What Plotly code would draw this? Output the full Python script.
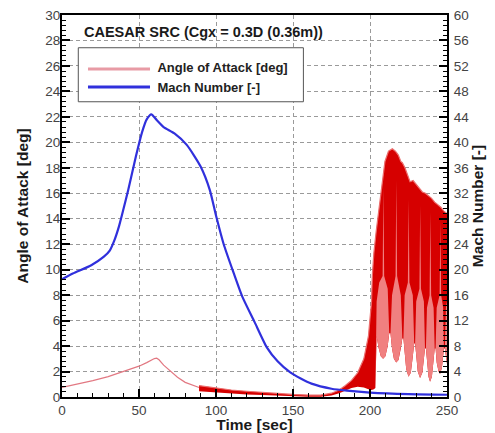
import plotly.graph_objects as go

# ---------------- data ----------------
# Angle of attack, smooth early part [deg]
aoa_t = [0, 10, 20, 30, 40, 50, 55, 58, 60, 61.5, 63, 66, 70, 75, 80, 85, 89]
aoa_v = [0.75, 1.0, 1.28, 1.6, 1.98, 2.42, 2.7, 2.9, 3.02, 3.05, 2.92, 2.5, 2.05, 1.55, 1.15, 0.9, 0.75]

# Angle of attack, oscillating part: upper envelope [deg]
osc_hi_t = [89, 95, 100, 110, 120, 130, 140, 150, 160, 168, 175, 180, 184, 188, 192, 196,
            199, 201, 201.5, 202.5, 204, 205.5, 207.5, 209.7, 212, 214.5, 216.5, 218.4, 220,
            221, 222.7, 224, 226, 228, 230, 232, 234, 236, 238, 240, 242, 244, 246, 248, 250]
osc_hi = [0.9, 0.8, 0.7, 0.55, 0.45, 0.35, 0.28, 0.2, 0.15, 0.15, 0.3, 0.55, 0.9, 1.3, 1.9, 3.0,
          4.8, 7.5, 9.5, 11.3, 13.0, 14.5, 16.4, 18.5, 19.3, 19.5, 19.3, 19.0, 18.5,
          18.4, 18.0, 17.5, 16.9, 17.0, 16.7, 16.4, 16.1, 16.0, 15.8, 15.6, 15.3, 15.1, 14.9, 14.6, 14.4]

# Angle of attack, oscillating part: lower envelope up to the beat region [deg]
osc_lo_t = [89, 95, 100, 110, 120, 130, 140, 150, 160, 168, 175, 180, 184, 188, 192, 196,
            199, 201, 202.5]
osc_lo = [0.45, 0.4, 0.35, 0.25, 0.2, 0.15, 0.1, 0.05, 0.02, 0.02, 0.12, 0.3, 0.5, 0.7, 0.8, 0.75,
          0.6, 0.55, 0.6]

# Beat region: lower envelope (minimum of oscillation) [deg]
lobe_t = [203.5, 204.3, 205.5, 207, 208.5, 210, 211.5, 212.5,
          213.3, 214.3, 215.5, 217, 218.5, 220, 221,
          221.7, 222.5, 223.5, 225, 226.5, 227.8, 228.7,
          229.3, 230, 231, 232.5, 234, 235, 235.7,
          236.3, 237, 238, 239, 240.2, 241.3, 242,
          242.6, 243.3, 244.5, 245.5, 246.7, 247.5, 248,
          248.6, 249.3, 250]
lobe_lo = [0.7, 4.8, 3.9, 3.2, 3.0, 3.2, 4.0, 5.0,
           5.0, 3.8, 3.0, 2.7, 2.9, 3.8, 4.6,
           4.6, 3.2, 2.2, 1.6, 1.9, 3.2, 4.2,
           4.2, 3.0, 2.0, 1.5, 1.9, 3.0, 3.8,
           3.8, 2.6, 1.6, 1.2, 1.6, 2.9, 3.8,
           3.8, 2.7, 2.0, 1.8, 2.3, 3.2, 3.8,
           3.8, 3.0, 2.6]
# Beat region: top of the sparse (light) parts, including light streaks [deg]
lobe_top_t = [203.5, 204.3, 206, 208.2, 208.7, 209.2, 211.5, 212.5,
              213.3, 214.3, 216.6, 217.1, 217.6, 220, 221,
              221.7, 222.5, 224.6, 225.1, 225.6, 227.8, 228.7,
              229.3, 230, 232.1, 232.6, 233.1, 235, 235.7,
              236.3, 237, 238.7, 239.2, 239.7, 241.3, 242,
              242.6, 243.3, 245.2, 245.7, 246.2, 247.5, 248,
              248.6, 249.3, 250]
lobe_top = [0.7, 7.5, 9.0, 9.5, 16.5, 9.5, 8.5, 5.0,
            5.0, 8.0, 9.5, 17.0, 9.5, 8.0, 4.6,
            4.6, 8.0, 9.0, 15.5, 9.0, 8.0, 4.2,
            4.2, 7.5, 8.5, 15.0, 8.5, 7.5, 3.8,
            3.8, 7.0, 8.0, 14.5, 8.0, 7.0, 3.8,
            3.8, 7.0, 8.0, 13.8, 8.0, 7.0, 3.8,
            3.8, 7.0, 7.5]

# Mach number [-]
mach_t = [0, 7, 19, 27, 31, 34, 37, 40, 43, 48, 52, 55, 58, 61.5, 66, 73, 81, 90, 96, 100,
          105, 110.7, 117, 125, 133, 140, 148, 155, 162, 175, 185, 200, 225, 250]
mach_v = [18.5, 19.4, 20.7, 22.0, 23.0, 24.6, 26.8, 29.6, 32.5, 37.8, 41.6, 43.6, 44.4, 43.5,
          42.4, 41.4, 39.6, 36.2, 32.5, 28.5, 24.0, 20.0, 15.8, 11.8, 7.8, 5.6, 3.9, 2.9,
          2.1, 1.3, 1.0, 0.7, 0.45, 0.35]

title_text = "CAESAR SRC (Cgx = 0.3D (0.36m))"
legend_names = ["Angle of Attack [deg]", "Mach Number [-]"]
x_ticks = [0, 50, 100, 150, 200, 250]
aoa_ticks = list(range(0, 31, 2))
mach_ticks = list(range(0, 61, 4))

# ---------------- figure ----------------
FONT = "Liberation Sans, Arial, Helvetica, sans-serif"
DARK_RED = "rgb(214,0,0)"
LIGHT_RED = "rgb(240,128,128)"
AOA_LINE = "rgb(226,120,130)"
LEG_AOA = "rgb(232,155,165)"
BLUE = "rgb(48,48,220)"
CLEAR = "rgba(0,0,0,0)"

fig = go.Figure()

# dense oscillation envelope
fig.add_trace(go.Scatter(x=osc_lo_t + lobe_t, y=osc_lo + lobe_lo, mode="lines",
                         line=dict(width=0, color=DARK_RED), showlegend=False, hoverinfo="skip"))
fig.add_trace(go.Scatter(x=osc_hi_t, y=osc_hi, mode="lines", fill="tonexty", fillcolor=DARK_RED,
                         line=dict(width=1.2, color="rgb(236,110,110)"),
                         showlegend=False, hoverinfo="skip"))
# sparse light lobes
fig.add_trace(go.Scatter(x=lobe_t, y=lobe_lo, mode="lines", line=dict(width=0, color=LIGHT_RED),
                         showlegend=False, hoverinfo="skip"))
fig.add_trace(go.Scatter(x=lobe_top_t, y=lobe_top, mode="lines", fill="tonexty", fillcolor=LIGHT_RED,
                         line=dict(width=0, color=LIGHT_RED), showlegend=False, hoverinfo="skip"))
# smooth AoA line
fig.add_trace(go.Scatter(x=aoa_t, y=aoa_v, mode="lines", name=legend_names[0],
                         line=dict(width=1.2, color=AOA_LINE), showlegend=False))
# Mach number on right axis
fig.add_trace(go.Scatter(x=mach_t, y=mach_v, mode="lines", name=legend_names[1],
                         line=dict(width=2.2, color=BLUE, shape="spline", smoothing=0.6),
                         yaxis="y2", showlegend=False))
# legend entries (their sample lines are drawn as long shapes below)
fig.add_trace(go.Scatter(x=[None], y=[None], mode="lines", name=legend_names[0],
                         line=dict(width=1, color=CLEAR)))
fig.add_trace(go.Scatter(x=[None], y=[None], mode="lines", name=legend_names[1],
                         line=dict(width=1, color=CLEAR)))

tickfont = dict(family=FONT, size=13.5, color="#444")
titlefont = dict(family=FONT, size=15.5, color="#1a1a1a", weight="bold")
grid = dict(showgrid=True, gridcolor="#9a9a9a", gridwidth=1, griddash="4px,3px")

# the page body adds an 8px offset, so the figure is 8px smaller than the window
W, H = 487, 425
ML, MR, MT, MB = 54, 48, 7, 36

fig.update_layout(
    width=W, height=H,
    margin=dict(l=ML, r=MR, t=MT, b=MB),
    paper_bgcolor="white", plot_bgcolor="white",
    showlegend=True,
    legend=dict(x=0.066, y=0.9034, xanchor="left", yanchor="top", traceorder="normal",
                bgcolor="rgba(0,0,0,0)", borderwidth=0,
                font=dict(family=FONT, size=13, color="#222", weight="bold"),
                itemwidth=60),
    xaxis=dict(range=[0, 250], tickvals=x_ticks, ticks="inside", ticklen=8, tickwidth=2,
               tickcolor="black", showline=True, linecolor="black", linewidth=2, mirror=True,
               zeroline=False, tickfont=tickfont, automargin=False, ticklabeloverflow="allow",
               minor=dict(dtick=10, ticks="inside", ticklen=4, tickwidth=1, tickcolor="black",
                          showgrid=False),
               title=dict(text="Time [sec]", font=titlefont, standoff=1),
               **grid),
    yaxis=dict(range=[0, 30], tickvals=aoa_ticks, ticks="inside", ticklen=8, tickwidth=2,
               tickcolor="black", showline=True, linecolor="black", linewidth=2, mirror=False,
               zeroline=False, tickfont=tickfont, automargin=False, ticklabeloverflow="allow",
               ticklabelstandoff=-3,
               minor=dict(dtick=0.4, ticks="inside", ticklen=4, tickwidth=1, tickcolor="black",
                          showgrid=False),
               title=dict(text="Angle of Attack [deg]", font=titlefont, standoff=13),
               **grid),
    yaxis2=dict(range=[0, 60], tickvals=mach_ticks, overlaying="y", side="right",
                ticks="inside", ticklen=8, tickwidth=2, tickcolor="black",
                showline=True, linecolor="black", linewidth=2, showgrid=False, zeroline=False,
                tickfont=tickfont, automargin=False, ticklabeloverflow="allow",
                ticklabelstandoff=2,
                minor=dict(dtick=0.8, ticks="inside", ticklen=4, tickwidth=1, tickcolor="black",
                           showgrid=False),
                title=dict(text="Mach Number [-]", font=titlefont, standoff=2)),
    annotations=[dict(text=title_text, xref="paper", yref="paper", x=0.051, y=0.9555,
                      xanchor="left", yanchor="middle", showarrow=False,
                      font=dict(family=FONT, size=14.5, color="#1a1a1a", weight="bold"))],
    shapes=[
        # legend frame
        dict(type="rect", xref="paper", yref="paper", x0=0.0423, x1=0.627, y0=0.7729, y1=0.9143,
             line=dict(color="#555", width=1), fillcolor="white", layer="above"),
        # long legend sample lines
        dict(type="line", xref="paper", yref="paper", x0=0.0675, x1=0.2286, y0=0.8585, y1=0.8585,
             line=dict(color=LEG_AOA, width=3), layer="above"),
        dict(type="line", xref="paper", yref="paper", x0=0.0675, x1=0.2286, y0=0.8114, y1=0.8114,
             line=dict(color=BLUE, width=3), layer="above"),
    ],
)

fig.write_html("out.html")
